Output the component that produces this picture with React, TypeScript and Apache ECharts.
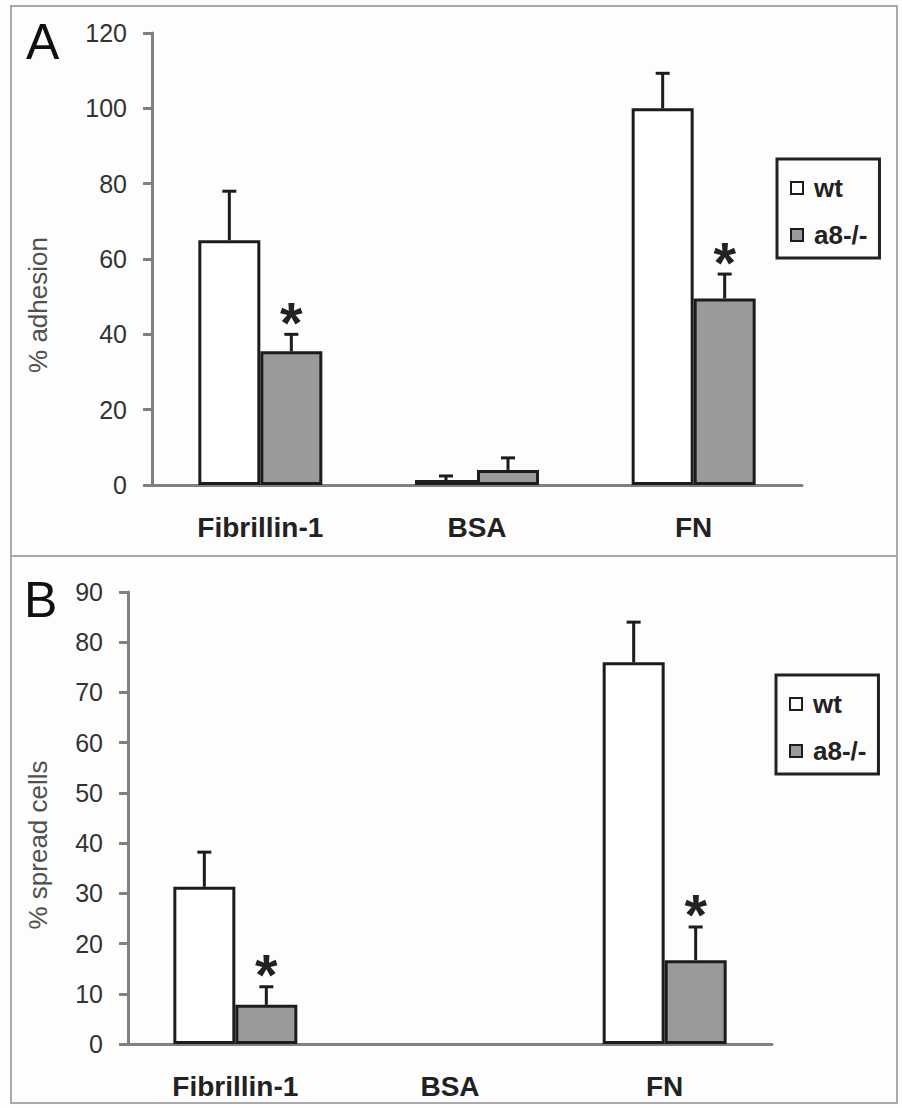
import React, { useEffect, useRef } from "react";
import * as echarts from "echarts";

const categories = ["Fibrillin-1", "BSA", "FN"];
const seriesNames = ["wt", "a8-/-"];

// Panel A: % adhesion
const adhesionWt = [65, 1.3, 100];
const adhesionWtErr = [13, 1.1, 9.3];
const adhesionKo = [35.5, 4.0, 49.5];
const adhesionKoErr = [4.5, 3.2, 6.5];
const adhesionSig = [true, false, true];
const adhesionTicks = { min: 0, max: 120, interval: 20 };

// Panel B: % spread cells
const spreadWt = [31.3, 0, 76];
const spreadWtErr = [6.9, 0, 8];
const spreadKo = [7.8, 0, 16.7];
const spreadKoErr = [3.6, 0, 6.6];
const spreadSig = [true, false, true];
const spreadTicks = { min: 0, max: 90, interval: 10 };

const FONT = "'Liberation Sans', Arial, Helvetica, sans-serif";
const AXIS_GREY = "#808080";
const DARK = "#1c1c1c";
const KO_FILL = "#9a9a9c";

function errRender(offset: number) {
  return (params: any, api: any) => {
    const c = api.value(0);
    const v = api.value(1);
    const e = api.value(2);
    if (!e) return null;
    const p0 = api.coord([c, v]);
    const p1 = api.coord([c, v + e]);
    const x = p0[0] + offset;
    return {
      type: "group",
      children: [
        { type: "line", shape: { x1: x, y1: p0[1], x2: x, y2: p1[1] }, style: { stroke: DARK, lineWidth: 3 } },
        { type: "line", shape: { x1: x - 7, y1: p1[1], x2: x + 7, y2: p1[1] }, style: { stroke: DARK, lineWidth: 3 } },
      ],
    };
  };
}

function starRender(offset: number) {
  return (params: any, api: any) => {
    const c = api.value(0);
    const top = api.value(1);
    const p = api.coord([c, top]);
    return {
      type: "text",
      style: {
        text: "*",
        x: p[0] + offset,
        y: p[1] - 12,
        align: "center",
        verticalAlign: "middle",
        fontSize: 58,
        fontWeight: "bold",
        fontFamily: FONT,
        fill: "#222",
      },
    };
  };
}

function panelSeries(
  gi: number,
  wt: number[],
  wtErr: number[],
  ko: number[],
  koErr: number[],
  sig: boolean[]
) {
  const half = 31;
  const wtData = wt.map((v) => (v === 0 ? { value: 0, itemStyle: { borderWidth: 0 } } : v));
  const koData = ko.map((v) => (v === 0 ? { value: 0, itemStyle: { borderWidth: 0 } } : v));
  return [
    {
      name: seriesNames[0],
      type: "bar",
      xAxisIndex: gi,
      yAxisIndex: gi,
      data: wtData,
      barWidth: 62,
      barGap: "0%",
      itemStyle: { color: "#ffffff", borderColor: DARK, borderWidth: 3 },
      z: 2,
    },
    {
      name: seriesNames[1],
      type: "bar",
      xAxisIndex: gi,
      yAxisIndex: gi,
      data: koData,
      barWidth: 62,
      barGap: "0%",
      itemStyle: { color: KO_FILL, borderColor: DARK, borderWidth: 3 },
      z: 2,
    },
    {
      type: "custom",
      xAxisIndex: gi,
      yAxisIndex: gi,
      data: wt.map((v, i) => [i, v, wtErr[i]]),
      renderItem: errRender(-half),
      z: 3,
      silent: true,
    },
    {
      type: "custom",
      xAxisIndex: gi,
      yAxisIndex: gi,
      data: ko.map((v, i) => [i, v, koErr[i]]),
      renderItem: errRender(half),
      z: 3,
      silent: true,
    },
    {
      type: "custom",
      xAxisIndex: gi,
      yAxisIndex: gi,
      data: ko.map((v, i) => [i, v + koErr[i]]).filter((_, i) => sig[i]),
      renderItem: starRender(half),
      z: 4,
      silent: true,
    },
  ];
}

function catAxis(gi: number) {
  return {
    type: "category",
    gridIndex: gi,
    data: categories,
    axisLine: { lineStyle: { color: AXIS_GREY, width: 3 } },
    axisTick: { length: 12, lineStyle: { color: AXIS_GREY, width: 3 } },
    axisLabel: { fontSize: 28, fontWeight: "bold", color: "#222", margin: 28, fontFamily: FONT },
  };
}

function valAxis(gi: number, t: { min: number; max: number; interval: number }) {
  return {
    type: "value",
    gridIndex: gi,
    min: t.min,
    max: t.max,
    interval: t.interval,
    splitLine: { show: false },
    axisLine: { show: true, lineStyle: { color: AXIS_GREY, width: 3 } },
    axisTick: { show: true, length: 9, lineStyle: { color: AXIS_GREY, width: 3 } },
    axisLabel: { fontSize: 25, color: "#333", margin: 25, fontFamily: FONT },
  };
}

function legendAt(left: number, top: number) {
  return {
    data: seriesNames,
    orient: "vertical",
    left,
    top,
    padding: [16, 12, 10, 13],
    itemGap: 21,
    itemWidth: 12,
    itemHeight: 12,
    icon: "rect",
    borderColor: "#222",
    borderWidth: 3,
    itemStyle: { borderWidth: 2, borderColor: DARK },
    textStyle: { fontSize: 26, fontWeight: "bold", color: "#222", fontFamily: FONT, lineHeight: 26, padding: [0, 0, 0, 6] },
    selectedMode: false,
  };
}

export default function App() {
  const ref = useRef<HTMLDivElement>(null);
  useEffect(() => {
    document.body.style.margin = "0";
    if (!ref.current) return;
    const chart = echarts.init(ref.current, null, { renderer: "svg" });
    chart.setOption({
      animation: false,
      backgroundColor: "#fdfdfd",
      textStyle: { fontFamily: FONT },
      grid: [
        { left: 152, top: 33, width: 650, height: 452 },
        { left: 128, top: 592, width: 644, height: 452 },
      ],
      xAxis: [catAxis(0), catAxis(1)],
      yAxis: [valAxis(0, adhesionTicks), valAxis(1, spreadTicks)],
      legend: [legendAt(777, 159), legendAt(776, 675)],
      series: [
        ...panelSeries(0, adhesionWt, adhesionWtErr, adhesionKo, adhesionKoErr, adhesionSig),
        ...panelSeries(1, spreadWt, spreadWtErr, spreadKo, spreadKoErr, spreadSig),
      ],
      graphic: [
        { type: "rect", shape: { x: 11, y: 6, width: 886, height: 1097 }, style: { fill: "none", stroke: "#aaaaaa", lineWidth: 2 } },
        { type: "line", shape: { x1: 11, y1: 556, x2: 897, y2: 556 }, style: { stroke: "#aaaaaa", lineWidth: 2 } },
        { type: "text", style: { text: "A", x: 26, y: 17, fontSize: 50, fontFamily: FONT, fill: "#111", verticalAlign: "top" } },
        { type: "text", style: { text: "B", x: 24, y: 575, fontSize: 50, fontFamily: FONT, fill: "#111", verticalAlign: "top" } },
        {
          type: "text",
          x: 38,
          y: 305,
          rotation: Math.PI / 2,
          style: { text: "% adhesion", fontSize: 26, fontFamily: FONT, fill: "#505050", align: "center", verticalAlign: "middle" },
        },
        {
          type: "text",
          x: 38,
          y: 845,
          rotation: Math.PI / 2,
          style: { text: "% spread cells", fontSize: 26, fontFamily: FONT, fill: "#505050", align: "center", verticalAlign: "middle" },
        },
      ],
    });
    return () => chart.dispose();
  }, []);
  return <div ref={ref} style={{ width: 902, height: 1108 }} />;
}
